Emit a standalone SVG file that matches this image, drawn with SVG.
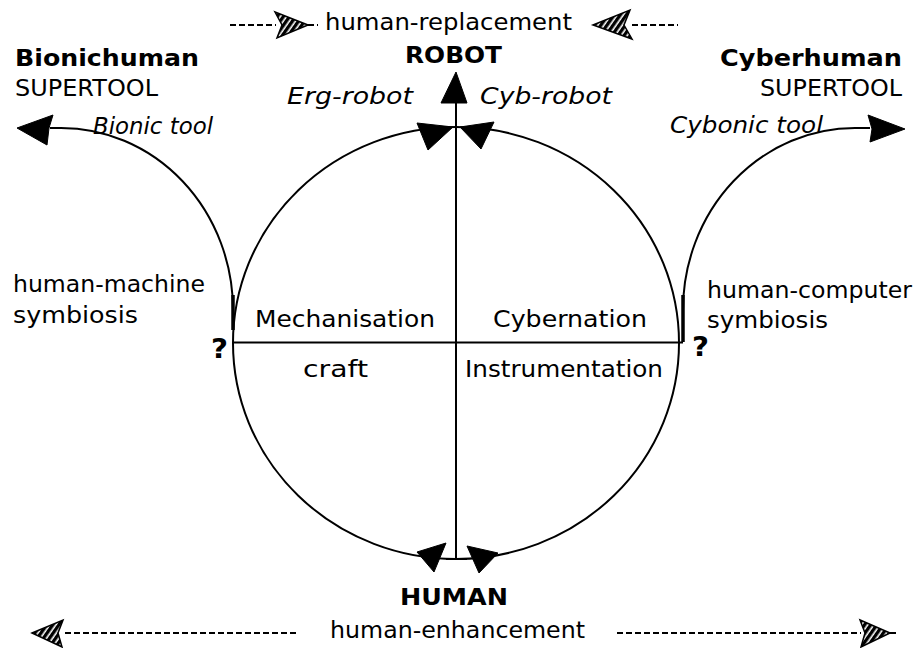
<svg xmlns="http://www.w3.org/2000/svg" width="921" height="648" viewBox="0 0 921 648">
<style>
text{font-family:"DejaVu Sans","Liberation Sans",sans-serif;font-size:23px;fill:#000}
.b{font-weight:bold}
.i{font-style:italic}
.q{font-size:27px;font-weight:bold}
.ln{fill:none;stroke:#000;stroke-width:2}
.dash{fill:none;stroke:#000;stroke-width:2;stroke-dasharray:6 3}
.ah{fill:#000;stroke:#000;stroke-width:1}
.hat{fill:url(#hatch);stroke:#000;stroke-width:1.5}
</style>
<defs>
<pattern id="hatch" patternUnits="userSpaceOnUse" width="5" height="5" patternTransform="rotate(-55)">
<rect width="5" height="5" fill="#fff"/>
<rect width="5" height="3.4" fill="#000"/>
</pattern>
</defs>
<rect width="921" height="648" fill="#fff"/>

<g id="connectors">
<ellipse class="ln" cx="456" cy="343" rx="223" ry="216"/>
<line class="ln" x1="456" y1="90" x2="456" y2="560"/>
<line class="ln" x1="233" y1="342.5" x2="683" y2="342.5"/>
<line class="ln" x1="446" y1="559" x2="467" y2="559"/>
<path class="ln" d="M50 128 L61 128 A172 182 0 0 1 233 310 L233 330"/>
<path class="ln" d="M870 128 L855 128 A172 182 0 0 0 683 310 L683 330"/>
<line x1="233" y1="295" x2="233" y2="330" stroke="#000" stroke-width="3.5"/>
<line x1="683" y1="295" x2="683" y2="342" stroke="#000" stroke-width="3.5"/>
<polygon class="ah" points="456,72 467,103 441,103"/>
<polygon class="ah" points="417,123 453,127 428,150"/>
<polygon class="ah" points="460,127 494,122 481,149"/>
<polygon class="ah" points="417,552 446,543 434,572"/>
<polygon class="ah" points="467,546 498,553 479,573"/>
<polygon class="ah" points="17,128 53,115 49,128 47,145"/>
<polygon class="ah" points="905,129 868,115 872,129 870,142"/>
<line class="dash" x1="230" y1="25" x2="276" y2="25"/>
<line class="dash" x1="308" y1="25" x2="318" y2="25"/>
<line class="dash" x1="632" y1="25" x2="678" y2="25"/>
<line class="dash" x1="65" y1="633" x2="297" y2="633"/>
<line class="dash" x1="617" y1="633" x2="861" y2="633"/>
<line class="dash" x1="890" y1="633" x2="897" y2="633"/>
<polygon class="hat" points="308,25 275,12 282,25 277,38"/>
<polygon class="hat" points="593,25 630,10 624,25 632,39"/>
<polygon class="hat" points="32,633 63,620 58,633 62,647"/>
<polygon class="hat" points="890,633 860,620 865,633 861,647"/>
</g>

<g id="top-label"><text x="325" y="30" textLength="247" lengthAdjust="spacingAndGlyphs">human-replacement</text></g>
<g id="robot"><text class="b" x="405" y="63" textLength="97" lengthAdjust="spacingAndGlyphs">ROBOT</text></g>
<g id="erg-robot"><text class="i" x="287" y="104" textLength="126" lengthAdjust="spacingAndGlyphs">Erg-robot</text></g>
<g id="cyb-robot"><text class="i" x="480" y="104" textLength="132" lengthAdjust="spacingAndGlyphs">Cyb-robot</text></g>
<g id="bionichuman">
<text class="b" x="15" y="66" textLength="184" lengthAdjust="spacingAndGlyphs">Bionichuman</text>
<text x="15" y="96" textLength="143" lengthAdjust="spacingAndGlyphs">SUPERTOOL</text>
</g>
<g id="bionic-tool"><text class="i" x="93" y="134" textLength="120" lengthAdjust="spacingAndGlyphs">Bionic tool</text></g>
<g id="cyberhuman">
<text class="b" x="720" y="66" textLength="182" lengthAdjust="spacingAndGlyphs">Cyberhuman</text>
<text x="760" y="96" textLength="142" lengthAdjust="spacingAndGlyphs">SUPERTOOL</text>
</g>
<g id="cybonic-tool"><text class="i" x="670" y="133" textLength="153" lengthAdjust="spacingAndGlyphs">Cybonic tool</text></g>
<g id="hm-symbiosis">
<text x="13" y="292" textLength="192" lengthAdjust="spacingAndGlyphs">human-machine</text>
<text x="13" y="323" textLength="125" lengthAdjust="spacingAndGlyphs">symbiosis</text>
</g>
<g id="hc-symbiosis">
<text x="707" y="298" textLength="205" lengthAdjust="spacingAndGlyphs">human-computer</text>
<text x="707" y="328" textLength="121" lengthAdjust="spacingAndGlyphs">symbiosis</text>
</g>
<g id="q-left"><text class="q" x="211" y="358" textLength="17" lengthAdjust="spacingAndGlyphs">?</text></g>
<g id="q-right"><text class="q" x="692" y="356" textLength="17" lengthAdjust="spacingAndGlyphs">?</text></g>
<g id="mechanisation"><text x="255" y="327" textLength="180" lengthAdjust="spacingAndGlyphs">Mechanisation</text></g>
<g id="cybernation"><text x="493" y="327" textLength="154" lengthAdjust="spacingAndGlyphs">Cybernation</text></g>
<g id="craft"><text x="303" y="377" textLength="65" lengthAdjust="spacingAndGlyphs">craft</text></g>
<g id="instrumentation"><text x="465" y="377" textLength="198" lengthAdjust="spacingAndGlyphs">Instrumentation</text></g>
<g id="human"><text class="b" x="400" y="605" textLength="108" lengthAdjust="spacingAndGlyphs">HUMAN</text></g>
<g id="bottom-label"><text x="330" y="638" textLength="255" lengthAdjust="spacingAndGlyphs">human-enhancement</text></g>
</svg>
